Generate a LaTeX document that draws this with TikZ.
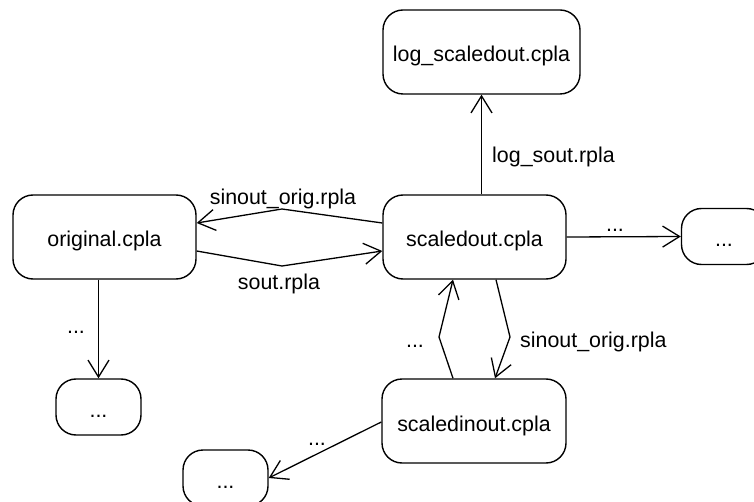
\documentclass[tikz,border=0pt]{standalone}
\usepackage{fontspec}
\setmainfont{Liberation Sans}
\usetikzlibrary{arrows.meta}
\begin{document}
\begin{tikzpicture}[x=1pt,y=-1pt,
  every node/.style={font=\fontsize{21.4}{26}\selectfont},
  file/.style={draw, line width=1.4pt, rounded corners=20pt, inner sep=0pt,
    text height=20pt, text depth=0pt},
  bigfile/.style={file, minimum width=183pt, minimum height=84pt},
  stub/.style={file, minimum width=85pt, minimum height=56pt},
  link/.style={line width=1.3pt, line join=miter,
    -{Straight Barb[length=17pt,width=21pt,line width=1.3pt]}},
  lbl/.style={inner sep=0pt}]
  \useasboundingbox (0,0) rectangle (754,502);
  \clip (0,0) rectangle (754,502);

  % files
  \node[file, minimum width=197pt, minimum height=84pt] (log) at (481.5,52) {log\_scaledout.cpla};
  \node[bigfile] (scaledout) at (474.5,237) {scaledout.cpla};
  \node[bigfile] (original) at (104.5,237) {original.cpla};
  \node[bigfile, minimum width=184pt] (scaledinout) at (474,421) {scaledinout.cpla};
  \node[stub] (right) at (724,236.5) {...};
  \node[stub] (leftbot) at (98.5,407) {...};
  \node[stub] (botdots) at (225.5,478) {...};

  % bend points of the paired connectors
  \coordinate (mtop) at (282,209);
  \coordinate (mbot) at (282,266);
  \coordinate (mleft) at (439,337);
  \coordinate (mright) at (510,337);

  % connectors
  \draw[link] (log.south |- scaledout.north) -- (log.south);
  \draw[link] ([yshift=14pt]scaledout.west) -- (mtop) -- ([yshift=14pt]original.east);
  \draw[link] ([yshift=-14pt]original.east) -- (mbot) -- ([yshift=-14pt]scaledout.west);
  \draw[link] (scaledout.east) -- (right.west);
  \draw[link] (leftbot.north |- original.south) -- (leftbot.north);
  \draw[link] ([xshift=-21pt]scaledinout.north) -- (mleft) -- ([xshift=-21.5pt]scaledout.south);
  \draw[link] ([xshift=21.5pt]scaledout.south) -- (mright) -- ([xshift=21pt]scaledinout.north);
  \draw[link] ([yshift=-1pt]scaledinout.west) -- (botdots.east);

  % connector labels
  \node[lbl, anchor=west] (llog) at (492,157) {log\_sout.rpla};
  \node[lbl] (lsin) at (283,199) {sinout\_orig.rpla};
  \node[lbl] (lsout) at (279,284) {sout.rpla};
  \node[lbl, anchor=base] (lright) at (615,232) {...};
  \node[lbl, anchor=base] (lleft) at (76,333) {...};
  \node[lbl, anchor=base] (lup) at (415,347) {...};
  \node[lbl, anchor=base west] (ldown) at (520,347) {sinout\_orig.rpla};
  \node[lbl, anchor=base] (lbot) at (317,445) {...};
\end{tikzpicture}
\end{document}
